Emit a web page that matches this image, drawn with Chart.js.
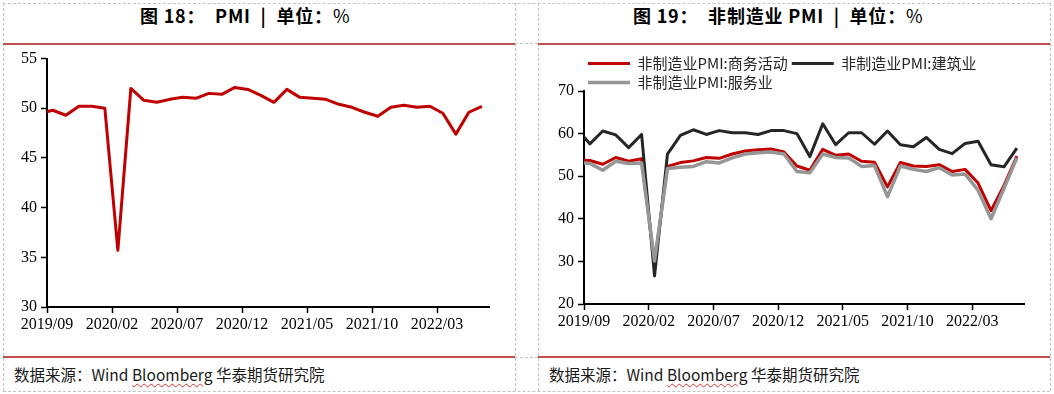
<!DOCTYPE html>
<html>
<head>
<meta charset="utf-8">
<script src="https://cdn.jsdelivr.net/npm/chart.js@4.4.0/dist/chart.umd.min.js"></script>
<style>
    body{margin:0;width:1054px;height:394px;background:#fff;position:relative;overflow:hidden;font-family:"Noto Sans CJK SC",sans-serif}
    .dh{position:absolute;height:0;border-top:1px dashed #c4c4c4}
    .dv{position:absolute;width:0;border-left:1px dashed #c4c4c4}
    .red{position:absolute;height:2px;background:#c0504d}
    .title{position:absolute;top:3px;font-size:18px;line-height:24px;font-weight:bold;white-space:pre;color:#000;letter-spacing:0.8px}
    .title span{font-weight:normal}
    .src{position:absolute;top:364px;font-size:15.5px;line-height:20px;white-space:pre;color:#1a1a1a}
    .src u{text-decoration:underline wavy #e03030 1px;text-underline-offset:2px}
    .box{position:absolute;top:45px;height:310px}
</style>
</head>
<body>
<!-- cuadricula punteada de la tabla -->
<div class="dh" style="left:3px;top:3px;width:1047px"></div>
<div class="dh" style="left:3px;top:391px;width:1047px"></div>
<div class="dh" style="left:515px;top:43px;width:23px"></div>
<div class="dh" style="left:515px;top:357px;width:23px"></div>
<div class="dv" style="left:3px;top:3px;height:388px"></div>
<div class="dv" style="left:515px;top:3px;height:388px"></div>
<div class="dv" style="left:538px;top:3px;height:388px"></div>
<div class="dv" style="left:1050px;top:3px;height:388px"></div>

<div class="red" style="left:3px;top:43px;width:512px"></div>
<div class="red" style="left:538px;top:43px;width:512px"></div>
<div class="red" style="left:3px;top:356px;width:512px"></div>
<div class="red" style="left:538px;top:356px;width:512px"></div>

<div class="title" style="left:140px">图 18：  PMI  |  单位：<span>%</span></div>
<div class="title" style="left:633px">图 19：  非制造业 PMI  |  单位：<span>%</span></div>

<div class="box" style="left:0;width:512px"><canvas id="chartPmi" width="512" height="310"></canvas></div>
<div class="box" style="left:538px;width:510px"><canvas id="chartNonMfg" width="510" height="310"></canvas></div>

<div class="src" style="left:14px">数据来源：Wind <u>Bloomberg</u> 华泰期货研究院</div>
<div class="src" style="left:549px">数据来源：Wind <u>Bloomberg</u> 华泰期货研究院</div>

<script>
// meses 2019/08 .. 2022/06 (el primero queda recortado por el eje)
var months = [
    "2019/08","2019/09","2019/10","2019/11","2019/12",
    "2020/01","2020/02","2020/03","2020/04","2020/05","2020/06","2020/07","2020/08","2020/09","2020/10","2020/11","2020/12",
    "2021/01","2021/02","2021/03","2021/04","2021/05","2021/06","2021/07","2021/08","2021/09","2021/10","2021/11","2021/12",
    "2022/01","2022/02","2022/03","2022/04","2022/05","2022/06"
]
var tickLabels = ["2019/09","2020/02","2020/07","2020/12","2021/05","2021/10","2022/03"]

var pmi = [49.5,49.8,49.3,50.2,50.2,
    50.0,35.7,52.0,50.8,50.6,50.9,51.1,51.0,51.5,51.4,52.1,51.9,
    51.3,50.6,51.9,51.1,51.0,50.9,50.4,50.1,49.6,49.2,50.1,50.3,
    50.1,50.2,49.5,47.4,49.6,50.2]

var bizActivity = [53.8,53.7,52.8,54.4,53.5,
    54.1,29.6,52.3,53.2,53.6,54.4,54.2,55.2,55.9,56.2,56.4,55.7,
    52.4,51.4,56.3,54.9,55.2,53.5,53.3,47.5,53.2,52.4,52.3,52.7,
    51.1,51.6,48.4,41.9,47.8,54.7]

var construction = [61.1,57.6,60.6,59.7,56.7,
    59.8,26.6,55.2,59.6,60.9,59.8,60.7,60.2,60.2,59.8,60.7,60.7,
    60.0,54.6,62.3,57.4,60.2,60.2,57.5,60.6,57.4,56.9,59.1,56.3,
    55.3,57.7,58.2,52.7,52.2,56.6]

var services = [53.2,53.0,51.4,53.5,53.0,
    53.1,30.1,51.8,52.1,52.3,53.4,53.1,54.3,55.2,55.5,55.7,55.2,
    51.1,50.8,55.2,54.4,54.3,52.3,52.5,45.2,52.4,51.6,51.1,52.0,
    50.3,50.5,46.7,40.0,47.1,54.3]

// eje x lineal en meses: 0 = inicio de 2019/09, los puntos caen a mitad de mes
function toXY(values){
    return values.map(function(v, i){ return {x: i - 0.55, y: v} })
}

var tickFont = {family: "Liberation Serif", size: 16}

function xAxis(height){
    return {
        type: "linear", min: 0, max: 34,
        afterFit: function(scale){ scale.height = height },
        border: {color: "#000", width: 2},
        grid: {drawOnChartArea: false, tickLength: 6, tickColor: "#000", tickWidth: 1.5},
        ticks: {
            stepSize: 5, includeBounds: false, maxRotation: 0, autoSkip: false,
            color: "#000", font: tickFont, padding: 2,
            callback: function(v){ return tickLabels[v / 5] }
        }
    }
}

function yAxis(min, max, step, width){
    return {
        min: min, max: max,
        afterFit: function(scale){ scale.width = width },
        border: {color: "#000", width: 2},
        grid: {drawOnChartArea: false, tickLength: 6, tickColor: "#000", tickWidth: 1.5},
        ticks: {stepSize: step, color: "#000", font: tickFont, padding: 4}
    }
}

new Chart(document.getElementById("chartPmi"), {
    type: "line",
    data: {
        datasets: [{
            label: "PMI",
            data: toXY(pmi),
            borderColor: "#c00000",
            backgroundColor: "#c00000",
            borderWidth: 3,
            borderJoinStyle: "round",
            pointRadius: 0,
            tension: 0
        }]
    },
    options: {
        responsive: false, animation: false, devicePixelRatio: 1,
        layout: {padding: {top: 12, right: 23, left: 0, bottom: 0}},
        plugins: {legend: {display: false}, tooltip: {enabled: false}},
        scales: {x: xAxis(48), y: yAxis(30, 55, 5, 47)}
    }
})

new Chart(document.getElementById("chartNonMfg"), {
    type: "line",
    data: {
        datasets: [
            {label: "非制造业PMI:商务活动", data: toXY(bizActivity), borderColor: "#c00000", backgroundColor: "#c00000", borderWidth: 3, order: 3},
            {label: "非制造业PMI:建筑业", data: toXY(construction), borderColor: "#262626", backgroundColor: "#262626", borderWidth: 3, order: 2},
            {label: "非制造业PMI:服务业", data: toXY(services), borderColor: "#969696", backgroundColor: "#969696", borderWidth: 3.5, order: 1}
        ]
    },
    options: {
        responsive: false, animation: false, devicePixelRatio: 1,
        elements: {line: {tension: 0, borderJoinStyle: "round"}, point: {radius: 0}},
        layout: {padding: {top: 7, right: 24, left: 0, bottom: 0}},
        plugins: {
            tooltip: {enabled: false},
            legend: {
                position: "top", align: "start", fullSize: false, maxHeight: 39,
                labels: {
                    usePointStyle: true, pointStyle: "line", pointStyleWidth: 42,
                    padding: 4, color: "#262626",
                    font: {family: "Noto Sans CJK SC", size: 15},
                    sort: function(a, b){ return a.datasetIndex - b.datasetIndex }
                }
            }
        },
        scales: {x: xAxis(51), y: yAxis(20, 70, 10, 46)}
    }
})
</script>
</body>
</html>
